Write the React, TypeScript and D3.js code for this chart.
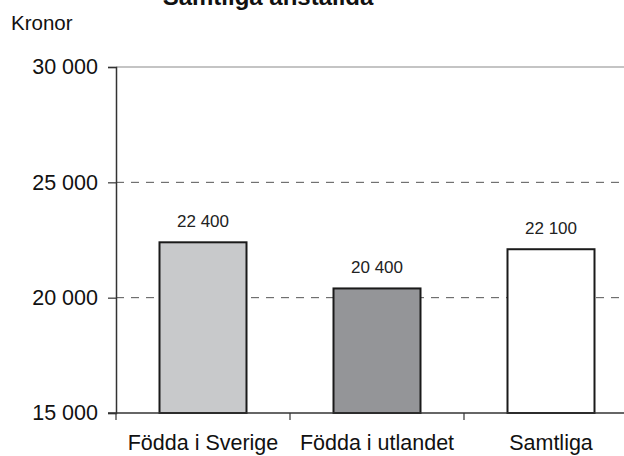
import React, { useRef, useEffect } from 'react';
import * as d3 from 'd3';

const categories = ['Födda i Sverige', 'Födda i utlandet', 'Samtliga'];
const values = [22400, 20400, 22100];
const valueLabels = ['22 400', '20 400', '22 100'];
const barColors = ['#c8c9cb', '#949598', '#ffffff'];
const yTicks = [15000, 20000, 25000, 30000];
const gridValues = [20000, 25000];

const fmt = (v: number) => d3.format(',')(v).replace(/,/g, ' ');

const App = () => {
  const svgRef = useRef<SVGSVGElement>(null);

  useEffect(() => {
    const width = 624;
    const height = 456;
    const svg = d3.select(svgRef.current);
    svg.selectAll('*').remove();
    svg.attr('width', width).attr('height', height)
      .style('font-family', 'Arial, "Liberation Sans", sans-serif');

    const left = 116;
    const x = d3.scaleBand<string>()
      .domain(categories)
      .range([left, left + 174 * 3])
      .paddingInner(0)
      .paddingOuter(0);

    const y = d3.scaleLinear().domain([15000, 30000]).range([413, 67]);

    // Title (cut off at top)
    svg.append('text')
      .attr('x', 268)
      .attr('y', 5)
      .attr('text-anchor', 'middle')
      .attr('font-size', 24)
      .attr('font-weight', 'bold')
      .attr('fill', '#111')
      .text('Samtliga anställda');

    svg.append('text')
      .attr('x', 11)
      .attr('y', 30)
      .attr('font-size', 20.5)
      .attr('fill', '#111')
      .text('Kronor');

    // top border
    svg.append('line')
      .attr('x1', left).attr('x2', width)
      .attr('y1', y(30000)).attr('y2', y(30000))
      .attr('stroke', '#8a8a8a').attr('stroke-width', 1.2);

    // grid
    svg.selectAll('line.grid')
      .data(gridValues)
      .enter()
      .append('line')
      .attr('class', 'grid')
      .attr('x1', left).attr('x2', width)
      .attr('y1', d => y(d)).attr('y2', d => y(d))
      .attr('stroke', '#555')
      .attr('stroke-width', 1)
      .attr('stroke-dasharray', '8,7');

    // bars
    const bw = x.bandwidth() * 0.5;
    svg.selectAll('rect.bar')
      .data(values)
      .enter()
      .append('rect')
      .attr('class', 'bar')
      .attr('x', (d, i) => x(categories[i])! + (x.bandwidth() - bw) / 2)
      .attr('y', d => y(d))
      .attr('width', bw)
      .attr('height', d => y(15000) - y(d))
      .attr('fill', (d, i) => barColors[i])
      .attr('stroke', '#1a1a1a')
      .attr('stroke-width', 2);

    // value labels
    svg.selectAll('text.val')
      .data(values)
      .enter()
      .append('text')
      .attr('class', 'val')
      .attr('x', (d, i) => x(categories[i])! + x.bandwidth() / 2)
      .attr('y', d => y(d) - 15)
      .attr('text-anchor', 'middle')
      .attr('font-size', 17)
      .attr('fill', '#222')
      .text((d, i) => valueLabels[i]);

    // y axis
    const yAxis = svg.append('g')
      .attr('transform', `translate(${left},0)`)
      .call(d3.axisLeft(y).tickValues(yTicks).tickSize(8).tickPadding(10).tickFormat(d => fmt(d as number)));
    yAxis.select('.domain').attr('stroke', '#333').attr('stroke-width', 1.5);
    yAxis.selectAll('.tick line').attr('stroke', '#333').attr('stroke-width', 1.2);
    yAxis.selectAll('.tick text')
      .attr('font-size', 21.5)
      .attr('fill', '#111')
      .attr('font-family', 'Arial, "Liberation Sans", sans-serif');

    // x axis
    const xAxisY = y(15000);
    svg.append('line')
      .attr('x1', left - 8).attr('x2', width)
      .attr('y1', xAxisY).attr('y2', xAxisY)
      .attr('stroke', '#333').attr('stroke-width', 1.5);
    const boundaries = categories.map(c => x(c)!);
    svg.selectAll('line.xtick')
      .data(boundaries)
      .enter()
      .append('line')
      .attr('class', 'xtick')
      .attr('x1', d => d).attr('x2', d => d)
      .attr('y1', xAxisY).attr('y2', xAxisY + 7)
      .attr('stroke', '#333').attr('stroke-width', 1.2);

    svg.selectAll('text.cat')
      .data(categories)
      .enter()
      .append('text')
      .attr('class', 'cat')
      .attr('x', d => x(d)! + x.bandwidth() / 2)
      .attr('y', 450)
      .attr('text-anchor', 'middle')
      .attr('font-size', 21.5)
      .attr('fill', '#111')
      .text(d => d);
  }, []);

  return <svg ref={svgRef} style={{ position: 'absolute', left: 0, top: 0 }}></svg>;
};

export default App;
